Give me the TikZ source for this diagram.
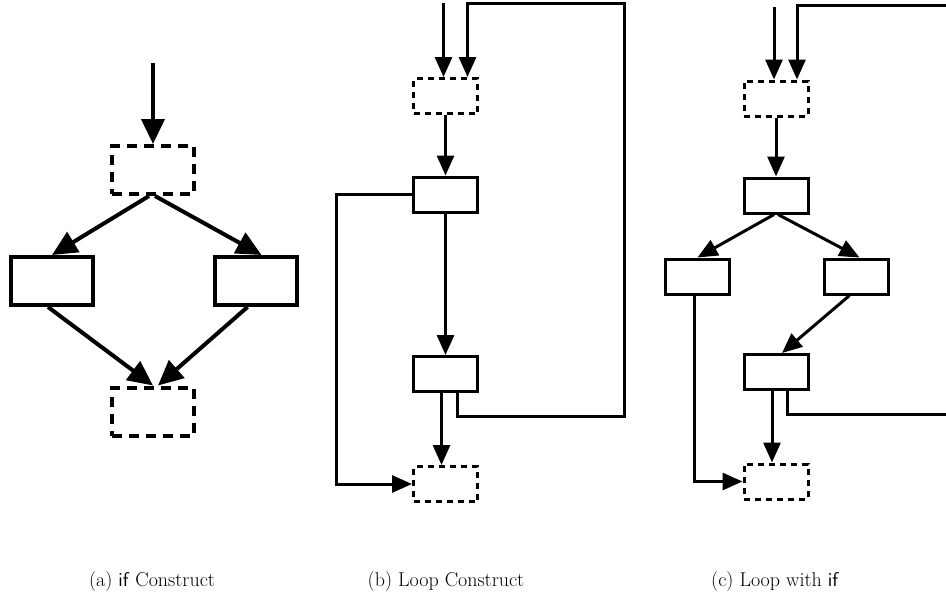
\documentclass[tikz,border=0pt]{standalone}
\usepackage{fontspec}
\usetikzlibrary{arrows.meta}
\newcommand{\capfont}{\fontsize{20}{24}\selectfont}

\begin{document}
\begin{tikzpicture}[x=1pt,y=-1pt,
    blk/.style={draw, rectangle, inner sep=0pt},
    dblk/.style={blk, dash pattern=on 6pt off 5pt},
    captxt/.style={font=\capfont}]
    \clip (0,0) rectangle (946,605);
    % (a) if construct
    \begin{scope}[line width=4pt, -{Triangle[length=25pt,width=23pt]},
        blk/.append style={minimum width=82pt, minimum height=48pt},
        dblk/.append style={dash pattern=on 10pt off 7pt}]
        \node[dblk] (da1) at (153,170) {};
        \node[blk] (la) at (52,281) {};
        \node[blk] (ra) at (255.5,281) {};
        \node[dblk] (da2) at (153,411.5) {};
        \coordinate (ina) at (153,63);
        \draw (ina) -- (da1.north);
        \draw ([xshift=-4pt]da1.south) -- (la.north);
        \draw ([xshift=2pt]da1.south) -- ([xshift=6pt]ra.north);
        \draw ([xshift=-4pt]la.south) -- (da2.north);
        \draw ([xshift=-8pt]ra.south) -- ([xshift=5pt]da2.north);
    \end{scope}
    % (b) loop construct
    \begin{scope}[line width=3pt, -{Triangle[length=20pt,width=17pt]},
        blk/.append style={minimum width=64pt, minimum height=35pt}]
        \node[dblk] (db1) at (445.5,96) {};
        \node[blk] (b1) at (445.5,194.5) {};
        \node[blk] (b2) at (445.5,374) {};
        \node[dblk] (db2) at (445.5,484) {};
        \coordinate (inb) at (443.5,3);
        \coordinate (bR1) at (624,416);
        \coordinate (bR2) at (624,3);
        \draw (inb) -- ([xshift=-2pt]db1.north);
        \draw ([xshift=12pt]b2.south) |- (bR1) -- (bR2) -| ([xshift=22pt]db1.north);
        \draw (db1.south) -- (b1.north);
        \draw (b1.south) -- (b2.north);
        \draw ([xshift=-4pt]b2.south) -- ([xshift=-4pt]db2.north);
        \draw (b1.west) -- ++(-76,0) |- (db2.west);
    \end{scope}
    % (c) loop with if
    \begin{scope}[line width=3pt, -{Triangle[length=20pt,width=17pt]},
        blk/.append style={minimum width=64pt, minimum height=35pt}]
        \node[dblk] (dc1) at (776,98.5) {};
        \node[blk] (c1) at (776,195.5) {};
        \node[blk] (cl) at (697.5,276.5) {};
        \node[blk] (cr) at (856.5,276.5) {};
        \node[blk] (cm) at (776,372) {};
        \node[dblk] (dc2) at (776,481.5) {};
        \coordinate (inc) at (774,7);
        \coordinate (cR1) at (960,414);
        \coordinate (cR2) at (960,5);
        \draw (inc) -- ([xshift=-2pt]dc1.north);
        \draw ([xshift=11pt]cm.south) |- (cR1) -- (cR2) -| ([xshift=21pt]dc1.north);
        \draw (dc1.south) -- (c1.north);
        \draw ([xshift=-2pt]c1.south) -- (cl.north);
        \draw ([xshift=2pt]c1.south) -- ([xshift=3pt]cr.north);
        \draw ([xshift=-7pt]cr.south) -- ([xshift=6pt]cm.north);
        \draw ([xshift=-4pt]cm.south) -- ([xshift=-4pt]dc2.north);
        \draw ([xshift=-3pt]cl.south) |- (dc2.west);
    \end{scope}
    % captions
    \node[captxt] (capa) at (152,582) {(a) \textsf{if} Construct};
    \node[captxt] (capb) at (446,582) {(b) Loop Construct};
    \node[captxt] (capc) at (775,582) {(c) Loop with \textsf{if}};
\end{tikzpicture}
\end{document}
